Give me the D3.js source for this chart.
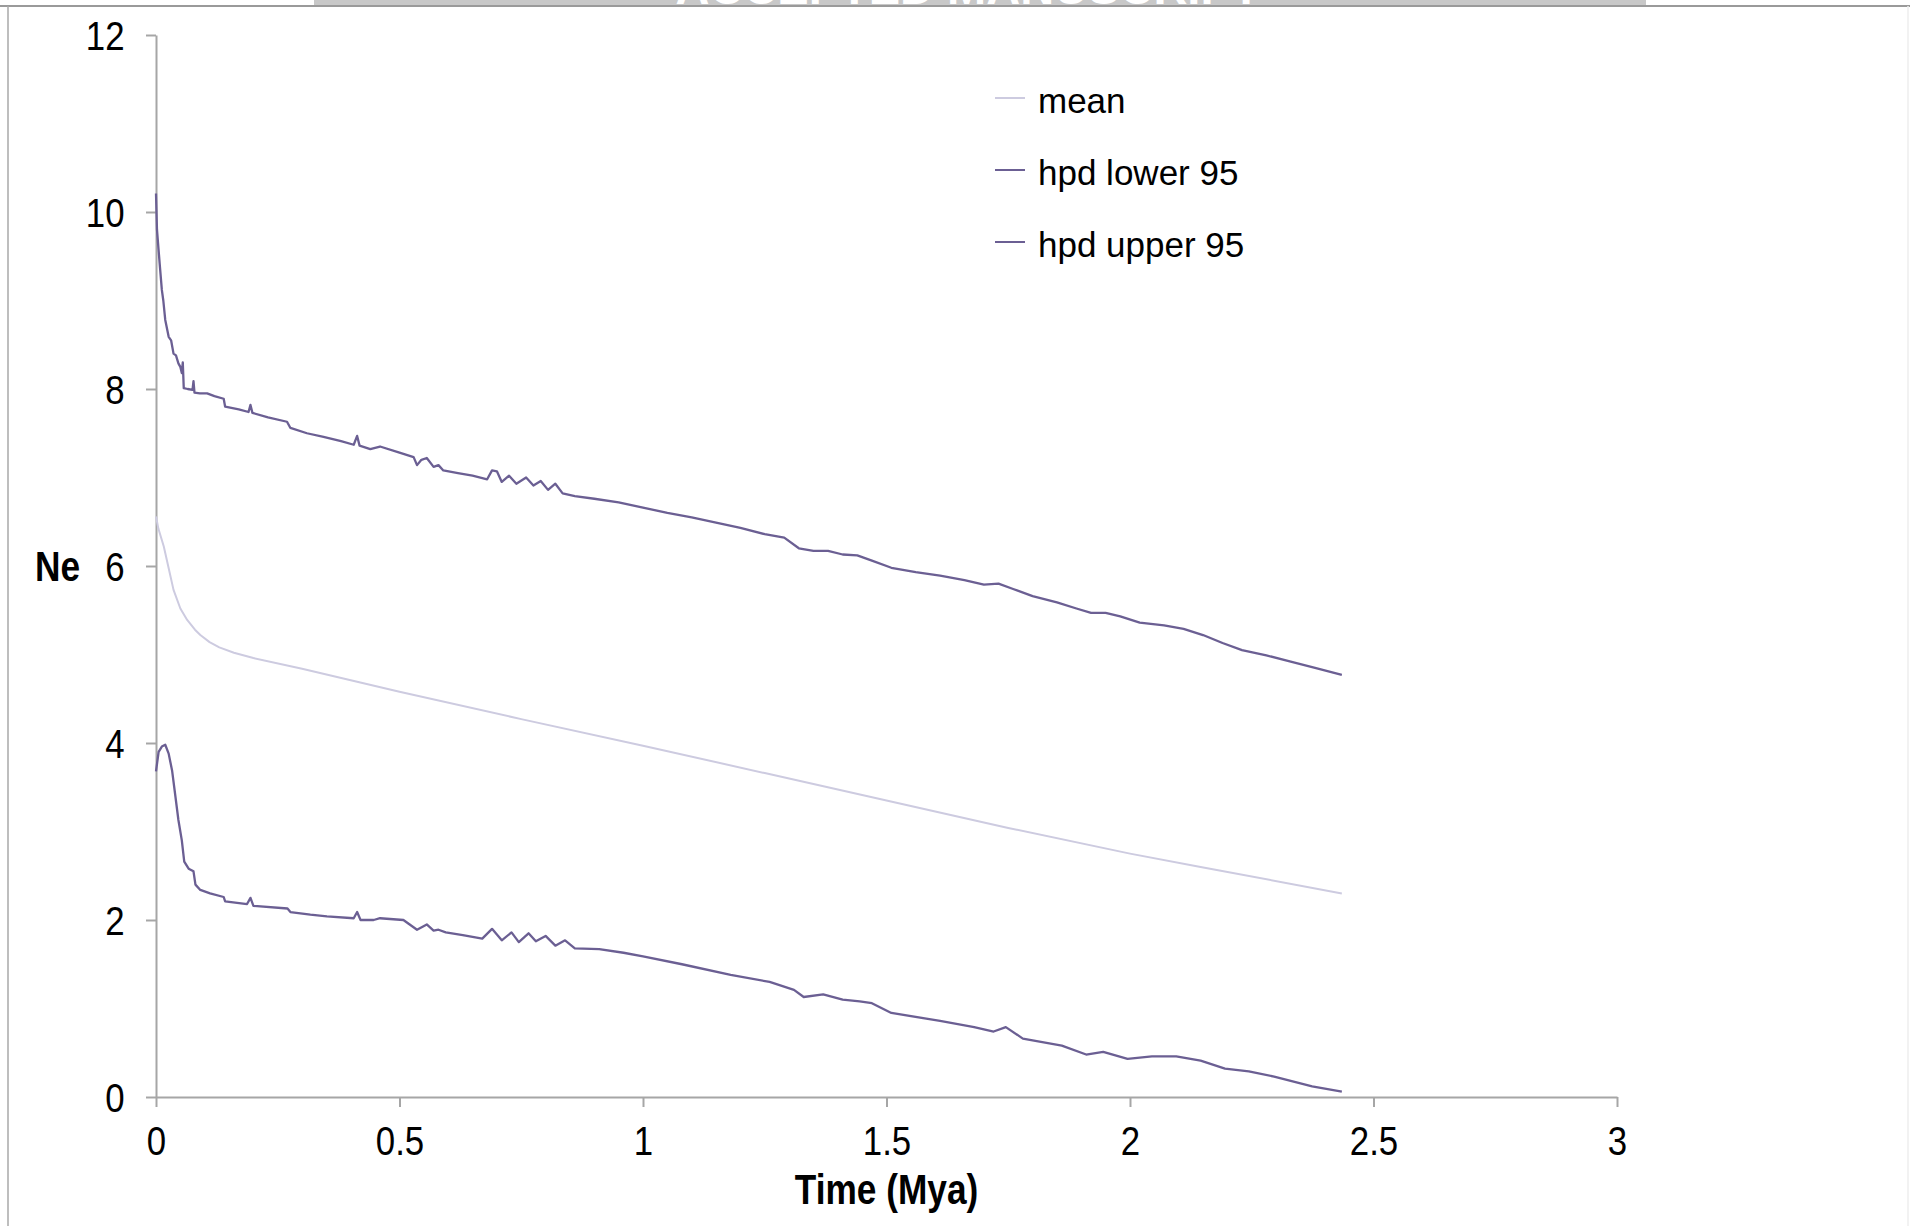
<!DOCTYPE html>
<html>
<head>
<meta charset="utf-8">
<script src="https://cdn.jsdelivr.net/npm/d3@7"></script>
<style>
  html, body { margin: 0; padding: 0; background: #fff; }
  svg { display: block; font-family: "Liberation Sans", Arial, sans-serif; }
</style>
</head>
<body>
<div id="chart"></div>
<script>
// time (Mya) and Ne
const upperTime = [0, 0.002, 0.0075, 0.012, 0.015, 0.019, 0.026, 0.031, 0.036, 0.041, 0.046, 0.05, 0.053, 0.055, 0.057,
  0.065, 0.075, 0.077, 0.079, 0.09, 0.105, 0.12, 0.139, 0.142, 0.17, 0.19, 0.194, 0.198, 0.23, 0.269, 0.276, 0.31,
  0.344, 0.38, 0.406, 0.413, 0.418, 0.44, 0.46, 0.5, 0.529, 0.536, 0.545, 0.556, 0.57, 0.58, 0.59, 0.62, 0.65, 0.68,
  0.69, 0.7, 0.71, 0.725, 0.74, 0.76, 0.775, 0.79, 0.805, 0.82, 0.835, 0.86, 0.9, 0.95, 1.0, 1.05, 1.1, 1.15, 1.2,
  1.25, 1.29, 1.32, 1.35, 1.38, 1.41, 1.44, 1.47, 1.51, 1.56, 1.61, 1.66, 1.7, 1.73, 1.76, 1.8, 1.85, 1.89, 1.92,
  1.95, 1.98, 2.02, 2.07, 2.11, 2.15, 2.19, 2.23, 2.28, 2.33, 2.38, 2.435];
const upperNe = [10.21, 9.8, 9.42, 9.12, 9.0, 8.78, 8.59, 8.55, 8.4, 8.38, 8.29, 8.25, 8.18, 8.3, 8.01,
  8.0, 7.99, 8.09, 7.96, 7.95, 7.95, 7.92, 7.89, 7.8, 7.77, 7.74, 7.82, 7.73, 7.68, 7.63, 7.56, 7.5,
  7.46, 7.41, 7.37, 7.47, 7.36, 7.32, 7.35, 7.28, 7.23, 7.14, 7.2, 7.22, 7.12, 7.14, 7.08, 7.05, 7.02, 6.98,
  7.08, 7.07, 6.95, 7.02, 6.93, 7.0, 6.91, 6.96, 6.86, 6.93, 6.82, 6.79, 6.76, 6.72, 6.66, 6.6, 6.55, 6.49, 6.43,
  6.36, 6.32, 6.2, 6.17, 6.17, 6.13, 6.12, 6.06, 5.98, 5.93, 5.89, 5.84, 5.79, 5.8, 5.74, 5.66, 5.59, 5.52, 5.47,
  5.47, 5.43, 5.36, 5.33, 5.29, 5.22, 5.13, 5.05, 4.99, 4.92, 4.85, 4.77];

const lowerTime = [0, 0.0054, 0.012, 0.019, 0.026, 0.033, 0.04, 0.046, 0.053, 0.058, 0.067, 0.077, 0.081, 0.091,
  0.111, 0.139, 0.142, 0.187, 0.194, 0.2, 0.27, 0.276, 0.317, 0.351, 0.406, 0.413, 0.42, 0.447, 0.46, 0.508, 0.536,
  0.556, 0.57, 0.58, 0.595, 0.63, 0.67, 0.69, 0.71, 0.73, 0.745, 0.765, 0.78, 0.8, 0.82, 0.84, 0.86, 0.91, 0.96,
  1.0, 1.08, 1.18, 1.26, 1.31, 1.33, 1.37, 1.41, 1.445, 1.47, 1.51, 1.61, 1.68, 1.72, 1.745, 1.78, 1.86, 1.91,
  1.945, 1.995, 2.045, 2.095, 2.145, 2.195, 2.244, 2.296, 2.374, 2.435];
const lowerNe = [3.68, 3.9, 3.96, 3.98, 3.88, 3.69, 3.39, 3.13, 2.9, 2.66, 2.58, 2.55, 2.4, 2.34,
  2.3, 2.26, 2.21, 2.18, 2.25, 2.16, 2.13, 2.09, 2.06, 2.04, 2.02, 2.09, 2.0, 2.0, 2.02, 2.0, 1.89,
  1.95, 1.88, 1.89, 1.86, 1.83, 1.79, 1.9, 1.77, 1.86, 1.75, 1.85, 1.76, 1.82, 1.71, 1.77, 1.68, 1.67, 1.63,
  1.59, 1.5, 1.38, 1.3, 1.21, 1.13, 1.16, 1.1, 1.08, 1.06, 0.95, 0.86, 0.79, 0.74, 0.79, 0.66, 0.58, 0.48,
  0.51, 0.43, 0.46, 0.46, 0.41, 0.32, 0.29, 0.23, 0.12, 0.06];

const meanTime = [0, 0.005, 0.016, 0.025, 0.036, 0.05, 0.064, 0.08, 0.091, 0.11, 0.13, 0.16, 0.2, 0.3, 0.4, 0.5,
  0.75, 1.0, 1.25, 1.5, 1.75, 2.0, 2.145, 2.435];
const meanNe = [6.56, 6.42, 6.22, 6.0, 5.73, 5.52, 5.39, 5.28, 5.22, 5.14, 5.08, 5.02, 4.96, 4.84, 4.71, 4.58,
  4.27, 3.97, 3.66, 3.35, 3.04, 2.75, 2.6, 2.3];

const seriesNames = ['mean', 'hpd lower 95', 'hpd upper 95'];
const xTicks = [0, 0.5, 1, 1.5, 2, 2.5, 3];
const yTicks = [0, 2, 4, 6, 8, 10, 12];

const width = 1910;
const height = 1226;
const margin = { top: 35, right: 293, bottom: 129, left: 156 };
const innerW = width - margin.left - margin.right;
const innerH = height - margin.top - margin.bottom;

// axis text in the figure is squeezed sideways
const squeeze = 0.87;

const colors = {
  mean: '#cdcbe0',
  'hpd lower 95': '#6b5f93',
  'hpd upper 95': '#6b5f93'
};

const series = [
  { name: 'mean', values: meanTime.map((t, i) => [t, meanNe[i]]) },
  { name: 'hpd lower 95', values: lowerTime.map((t, i) => [t, lowerNe[i]]) },
  { name: 'hpd upper 95', values: upperTime.map((t, i) => [t, upperNe[i]]) }
];

const svg = d3.select('#chart').append('svg')
  .attr('width', width)
  .attr('height', height);

// page frame and cropped banner at the top
svg.append('line')
  .attr('x1', 0).attr('x2', width).attr('y1', 6).attr('y2', 6)
  .style('stroke', '#9a9a9a').style('stroke-width', 2);
svg.append('line')
  .attr('x1', 8).attr('x2', 8).attr('y1', 6).attr('y2', height)
  .style('stroke', '#a8a8a8').style('stroke-width', 1.5);
svg.append('line')
  .attr('x1', 1908).attr('x2', 1908).attr('y1', 6).attr('y2', height)
  .style('stroke', '#eeeeee').style('stroke-width', 1.5);

svg.append('clipPath').attr('id', 'bannerClip')
  .append('rect').attr('x', 314).attr('y', 0).attr('width', 1332).attr('height', 5);
const banner = svg.append('g').attr('clip-path', 'url(#bannerClip)');
banner.append('rect')
  .attr('x', 314).attr('y', 0).attr('width', 1332).attr('height', 5)
  .style('fill', '#c8c8c8');
banner.append('text')
  .attr('x', 968).attr('y', 4)
  .attr('text-anchor', 'middle')
  .style('font-size', '47px').style('font-weight', 'bold')
  .style('fill', '#fff')
  .text('ACCEPTED MANUSCRIPT');

const g = svg.append('g')
  .attr('transform', `translate(${margin.left},${margin.top})`);

const x = d3.scaleLinear().domain([0, 3]).range([0, innerW]);
const y = d3.scaleLinear().domain([0, 12]).range([innerH, 0]);

const xAxis = g.append('g')
  .attr('transform', `translate(0,${innerH})`)
  .call(d3.axisBottom(x).tickValues(xTicks).tickFormat(d => d).tickSize(10).tickSizeOuter(0).tickPadding(20));

const yAxis = g.append('g')
  .call(d3.axisLeft(y).tickValues(yTicks).tickFormat(d => d).tickSize(10).tickSizeOuter(0));

[xAxis, yAxis].forEach(a => {
  a.selectAll('path, line').style('stroke', '#a6a6a6').style('stroke-width', 2);
  a.selectAll('text')
    .style('font-family', '"Liberation Sans", Arial, sans-serif')
    .style('font-size', '40px')
    .style('fill', '#000')
    .attr('transform', `scale(${squeeze},1)`);
});
yAxis.selectAll('text')
  .attr('x', -31.5 / squeeze)
  .attr('dy', '0.35em');

const line = d3.line()
  .x(d => x(d[0]))
  .y(d => y(d[1]));

g.selectAll('.series')
  .data(series)
  .enter()
  .append('path')
  .attr('class', 'series')
  .style('fill', 'none')
  .style('stroke', d => colors[d.name])
  .style('stroke-width', d => (d.name === 'mean' ? 2 : 2.3))
  .style('stroke-linejoin', 'round')
  .attr('d', d => line(d.values));

// axis titles
svg.append('text')
  .attr('transform', `translate(35,581) scale(${squeeze - 0.05},1)`)
  .style('font-size', '43px').style('font-weight', 'bold')
  .text('Ne');
svg.append('text')
  .attr('transform', `translate(${margin.left + innerW / 2},1204) scale(${squeeze - 0.05},1)`)
  .attr('text-anchor', 'middle')
  .style('font-size', '43px').style('font-weight', 'bold')
  .text('Time (Mya)');

// legend
const legend = svg.append('g')
  .attr('transform', 'translate(995,98)');
const items = legend.selectAll('.item')
  .data(seriesNames)
  .enter()
  .append('g')
  .attr('class', 'item')
  .attr('transform', (d, i) => `translate(0,${i * 72})`);
items.append('line')
  .attr('x1', 0).attr('x2', 30)
  .style('stroke', d => colors[d])
  .style('stroke-width', 2);
items.append('text')
  .attr('x', 43).attr('y', 15)
  .style('font-size', '35px')
  .style('fill', '#000')
  .text(d => d);
</script>
</body>
</html>
